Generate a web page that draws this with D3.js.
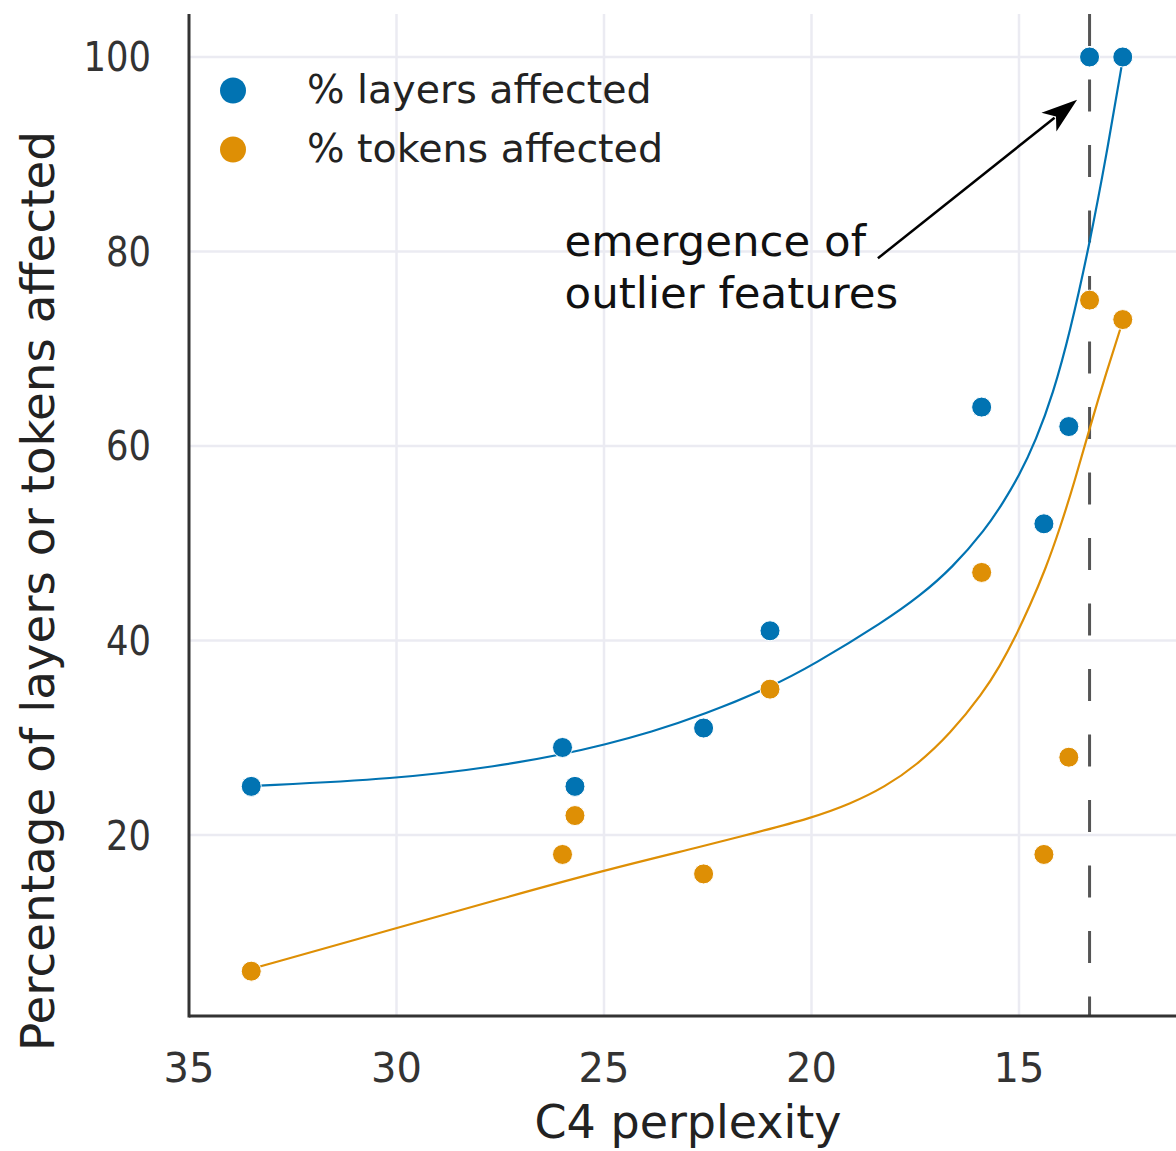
<!DOCTYPE html>
<html>
<head>
<meta charset="utf-8">
<script src="https://cdn.jsdelivr.net/npm/d3@7"></script>
<style>
  html, body { margin: 0; padding: 0; background: #fff; }
  text { font-family: "DejaVu Sans", sans-serif; }
</style>
</head>
<body>
<div id="container"></div>
<script>
// measured points (C4 perplexity vs % affected)
const perplexity = [33.5, 26.0, 25.7, 22.6, 21.0, 15.9, 14.4, 13.8, 13.3, 12.5]
const layersAffected = [25, 29, 25, 31, 41, 64, 52, 62, 100, 100]
const tokensAffected = [6, 18, 22, 16, 35, 47, 18, 28, 75, 73]

// fitted curves
const layersFitX = [33.51, 29.99, 27.51, 26.01, 24.98, 23.89, 22.59, 21.0, 19.96, 18.23, 17.39, 16.61, 15.8, 15.39, 15.0, 14.59, 14.18, 13.77, 13.31, 12.9, 12.49]
const layersFitY = [25.04, 25.76, 27.1, 28.28, 29.3, 30.55, 32.38, 35.17, 37.48, 42.01, 44.58, 47.46, 51.47, 54.14, 56.92, 60.62, 65.35, 71.72, 80.57, 89.72, 100]
const tokensFitX = [33.51, 29.99, 27.51, 24.98, 22.59, 21.48, 19.99, 19.07, 18.23, 17.46, 16.66, 15.87, 15.46, 15.1, 14.74, 14.37, 14.01, 13.65, 13.29, 12.9, 12.49]
const tokensFitY = [6.22, 10.44, 13.42, 16.4, 18.87, 20.1, 21.75, 23.19, 24.94, 27.2, 30.39, 34.6, 37.38, 40.26, 43.55, 47.25, 51.57, 56.5, 61.95, 67.51, 72.96]

const xTicks = [35, 30, 25, 20, 15]
const yTicks = [20, 40, 60, 80, 100]
const outlierPerplexity = 13.3

const seriesNames = ['% layers affected', '% tokens affected']
const colors = ['#0173b2', '#de8f05']

const width = 1176
const height = 1151
const margins = { top: 14, bottom: 135, left: 189, right: 0 }

const svg = d3.select('#container')
  .append('svg')
  .attr('width', width)
  .attr('height', height)
  .attr('viewBox', [0, 0, width, height])

const x = d3.scaleLinear()
  .domain([35, 11.217])
  .range([margins.left, width - margins.right])

const y = d3.scaleLinear()
  .domain([1.39, 104.42])
  .range([height - margins.bottom, margins.top])

// grid
svg.append('g')
  .selectAll('line')
  .data(xTicks.slice(1))
  .join('line')
  .attr('x1', d => x(d)).attr('x2', d => x(d))
  .attr('y1', y.range()[1]).attr('y2', y.range()[0])
  .style('stroke', '#ebebf2')
  .style('stroke-width', 2.5)

svg.append('g')
  .selectAll('line')
  .data(yTicks)
  .join('line')
  .attr('x1', x.range()[0]).attr('x2', x.range()[1])
  .attr('y1', d => y(d)).attr('y2', d => y(d))
  .style('stroke', '#ebebf2')
  .style('stroke-width', 2.5)

// outlier emergence line
svg.append('line')
  .attr('x1', x(outlierPerplexity)).attr('x2', x(outlierPerplexity))
  .attr('y1', y.range()[1]).attr('y2', y.range()[0])
  .style('stroke', '#555')
  .style('stroke-width', 3)
  .style('stroke-dasharray', '32 33.5')

// spines
svg.append('line')
  .attr('x1', x.range()[0]).attr('x2', x.range()[0])
  .attr('y1', y.range()[1]).attr('y2', y.range()[0] + 1.5)
  .style('stroke', '#333')
  .style('stroke-width', 3)
svg.append('line')
  .attr('x1', x.range()[0]).attr('x2', x.range()[1])
  .attr('y1', y.range()[0]).attr('y2', y.range()[0])
  .style('stroke', '#333')
  .style('stroke-width', 3)

// tick labels
svg.append('g')
  .selectAll('text')
  .data(xTicks)
  .join('text')
  .attr('x', d => x(d))
  .attr('y', 1082)
  .attr('text-anchor', 'middle')
  .style('font-size', '40px')
  .style('fill', '#333')
  .text(d => d)

svg.append('g')
  .selectAll('text')
  .data(yTicks)
  .join('text')
  .attr('x', 151)
  .attr('y', d => y(d) + 14.5)
  .attr('text-anchor', 'end')
  .attr('textLength', d => String(d).length * 22.5)
  .attr('lengthAdjust', 'spacingAndGlyphs')
  .style('font-size', '40px')
  .style('fill', '#333')
  .text(d => d)

// axis titles
svg.append('text')
  .attr('x', 688)
  .attr('y', 1138)
  .attr('text-anchor', 'middle')
  .style('font-size', '46px')
  .style('fill', '#222')
  .text('C4 perplexity')

svg.append('text')
  .attr('transform', 'translate(54,591) rotate(-90)')
  .attr('text-anchor', 'middle')
  .attr('textLength', 920)
  .attr('lengthAdjust', 'spacingAndGlyphs')
  .style('font-size', '46px')
  .style('fill', '#222')
  .text('Percentage of layers or tokens affected')

// fitted curves
const line = d3.line()
  .x(d => x(d[0]))
  .y(d => y(d[1]))
  .curve(d3.curveBasis)

const fits = [
  d3.zip(layersFitX, layersFitY),
  d3.zip(tokensFitX, tokensFitY)
]

svg.append('g')
  .selectAll('path')
  .data(fits)
  .join('path')
  .attr('d', line)
  .style('fill', 'none')
  .style('stroke', (d, i) => colors[i])
  .style('stroke-width', 2.2)

// points
const series = [layersAffected, tokensAffected]
series.forEach((vals, i) => {
  svg.append('g')
    .selectAll('circle')
    .data(d3.zip(perplexity, vals))
    .join('circle')
    .attr('cx', d => x(d[0]))
    .attr('cy', d => y(d[1]))
    .attr('r', 10)
    .style('fill', colors[i])
    .style('stroke', '#fff')
    .style('stroke-width', 1)
})

// legend
const legend = svg.append('g')
  .selectAll('g')
  .data(seriesNames)
  .join('g')
  .attr('transform', (d, i) => `translate(233,${ 90.5 + i * 59 })`)

legend.append('circle')
  .attr('r', 13)
  .style('fill', (d, i) => colors[i])

legend.append('text')
  .attr('x', 74)
  .attr('y', 12)
  .style('font-size', '39.5px')
  .style('fill', '#222')
  .text(d => d)

// annotation
const arrowFrom = [18.4, 79.3]
const arrowTo = [13.6, 95.6]
const ax0 = x(arrowFrom[0]), ay0 = y(arrowFrom[1])
const ax1 = x(arrowTo[0]), ay1 = y(arrowTo[1])
const ang = Math.atan2(ay1 - ay0, ax1 - ax0)
const headLen = 36, headW = 12

svg.append('line')
  .attr('x1', ax0).attr('y1', ay0)
  .attr('x2', ax1 - Math.cos(ang) * headLen * 0.8)
  .attr('y2', ay1 - Math.sin(ang) * headLen * 0.8)
  .style('stroke', '#000')
  .style('stroke-width', 2.5)

const bx = ax1 - Math.cos(ang) * headLen
const by = ay1 - Math.sin(ang) * headLen
svg.append('path')
  .attr('d', `M${ ax1 },${ ay1 }L${ bx - Math.sin(ang) * headW },${ by + Math.cos(ang) * headW }L${ ax1 - Math.cos(ang) * headLen * 0.75 },${ ay1 - Math.sin(ang) * headLen * 0.75 }L${ bx + Math.sin(ang) * headW },${ by - Math.cos(ang) * headW }Z`)
  .style('fill', '#000')

const note = svg.append('text')
  .style('font-size', '43.5px')
  .style('fill', '#111')

note.selectAll('tspan')
  .data(['emergence of', 'outlier features'])
  .join('tspan')
  .attr('x', x(25.95))
  .attr('y', (d, i) => y(79.5) + i * 52)
  .text(d => d)
</script>
</body>
</html>
